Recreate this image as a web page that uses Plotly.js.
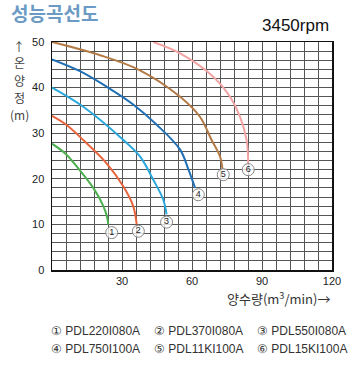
<!DOCTYPE html>
<html>
<head>
<meta charset="utf-8">
<script src="https://cdn.plot.ly/plotly-3.0.1.min.js"></script>
<style>html,body{margin:0;padding:0;background:#fff;}#chart{width:360px;height:366px;}</style>
</head>
<body>
<div id="chart"></div>
<script>
// Pump performance curves (flow m3/min vs head m)
var modelNames = ["PDL220I080A", "PDL370I080A", "PDL550I080A", "PDL750I100A", "PDL11KI100A", "PDL15KI100A"];
var circled = ["①", "②", "③", "④", "⑤", "⑥"];
var labelNums = ["1", "2", "3", "4", "5", "6"];
var curveColors = ["#4cb04f", "#e8643c", "#2aa8dc", "#1f70b4", "#b37a45", "#f2a3a3"];
var yTitleParts = ["↑", "온", "양", "정", "(m)"];

var flow1 = [0, 6, 11.7, 17.7, 22, 23.7, 24.1];
var head1 = [27.7, 25.4, 22, 18, 14, 11.4, 10];
var flow2 = [0, 6, 13.4, 23.4, 30.6, 34.8, 36.3];
var head2 = [33.8, 31.9, 28.5, 23.4, 18.3, 14, 10];
var flow3 = [0, 13.4, 30.6, 37.7, 43.4, 47.7, 49.1];
var head3 = [40, 35.8, 28.5, 24.9, 19.8, 15.4, 12.2];
var flow4 = [0, 12, 23.4, 34.8, 45, 54.9, 58.5, 61.3];
var head4 = [46.2, 43.6, 40.2, 36.3, 31.8, 26.4, 22, 18];
var flow5 = [0, 20.6, 37.7, 54.9, 63.4, 68.4, 72, 73.1];
var head5 = [50, 47.1, 43.8, 38, 33.6, 28.5, 24.9, 22];
var flow6 = [43.4, 54.9, 69.1, 76.3, 80.6, 83.4, 84.1];
var head6 = [50, 47.5, 42.4, 38, 33.6, 28.5, 23.4];

var labelFlow = [25.6, 37, 49.1, 62.7, 73.4, 84.1];
var labelHead = [8.2, 8.5, 10.5, 16.5, 20.9, 22];

var xTickVals = [30, 60, 90, 120];
var yTickVals = [0, 10, 20, 30, 40, 50];

var flows = [flow1, flow2, flow3, flow4, flow5, flow6];
var heads = [head1, head2, head3, head4, head5, head6];

var L = 52, R = 332, T = 42, B = 270, W = 360, H = 366;
function px(x) { return (x - L) / (R - L); }
function py(y) { return (B - y) / (B - T); }

var traces = [];
for (var i = 0; i < 6; i++) {
  traces.push({
    x: flows[i], y: heads[i], type: "scatter", mode: "lines",
    line: {color: curveColors[i], width: 2, shape: "spline", smoothing: 1},
    hoverinfo: "skip", cliponaxis: true
  });
}
traces.push({
  x: labelFlow, y: labelHead, type: "scatter", mode: "markers+text",
  text: labelNums, textposition: "middle center",
  textfont: {family: "Liberation Sans, Arial, sans-serif", size: 9, color: "#222"},
  marker: {symbol: "circle", size: 12, color: "rgba(255,255,255,0.75)", line: {color: "#888", width: 1}},
  hoverinfo: "skip", cliponaxis: false
});

var gridCol = "#555";
var annotations = [
  {xref: "paper", yref: "paper", x: px(9), y: py(13), xanchor: "left", yanchor: "middle",
   text: "<b>성능곡선도</b>", showarrow: false,
   font: {family: "Noto Sans CJK KR", size: 19, color: "#6b9bc4"}},
  {xref: "paper", yref: "paper", x: px(331), y: py(25), xanchor: "right", yanchor: "middle",
   text: "3450rpm", showarrow: false,
   font: {family: "Liberation Sans, Arial, sans-serif", size: 17, color: "#111"}},
  {xref: "paper", yref: "paper", x: px(332), y: py(298), xanchor: "right", yanchor: "middle",
   text: "양수량(m<sup>3</sup>/min)→", showarrow: false,
   font: {family: "Noto Sans CJK KR", size: 13, color: "#333"}}
];
var yTitlePos = [46, 63, 80, 97, 114];
for (var j = 0; j < yTitleParts.length; j++) {
  annotations.push({
    xref: "paper", yref: "paper", x: px(19), y: py(yTitlePos[j]), xanchor: "center", yanchor: "middle",
    text: yTitleParts[j], showarrow: false,
    font: {family: "Noto Sans CJK KR", size: 12, color: "#444"}
  });
}
var legX = [49, 152, 255];
var legY = [331, 349];
for (var k = 0; k < 6; k++) {
  annotations.push({
    xref: "paper", yref: "paper", x: px(legX[k % 3]), y: py(legY[Math.floor(k / 3)]),
    xanchor: "left", yanchor: "middle", showarrow: false,
    text: circled[k] + " " + modelNames[k],
    font: {family: "Liberation Sans, Arial, sans-serif", size: 12, color: "#333"}
  });
}

var layout = {
  width: W, height: H,
  margin: {l: L, r: W - R, t: T, b: H - B, pad: 0},
  paper_bgcolor: "#fff", plot_bgcolor: "#fff",
  showlegend: false,
  xaxis: {
    range: [0, 120], tickmode: "array", tickvals: xTickVals,
    showgrid: true, gridcolor: gridCol, gridwidth: 1,
    minor: {tickmode: "linear", tick0: 0, dtick: 6, showgrid: true, gridcolor: gridCol, gridwidth: 1},
    showline: true, mirror: true, linecolor: "#111", linewidth: 1.5,
    zeroline: false, ticks: "",
    tickfont: {family: "Liberation Sans, Arial, sans-serif", size: 11, color: "#222"},
    fixedrange: true
  },
  yaxis: {
    range: [0, 50], tickmode: "array", tickvals: yTickVals,
    showgrid: true, gridcolor: gridCol, gridwidth: 1,
    minor: {tickmode: "linear", tick0: 0, dtick: 2, showgrid: true, gridcolor: gridCol, gridwidth: 1},
    showline: true, mirror: true, linecolor: "#111", linewidth: 1.5,
    zeroline: false, ticks: "", ticklabelstandoff: 4,
    tickfont: {family: "Liberation Sans, Arial, sans-serif", size: 11, color: "#222"},
    fixedrange: true
  },
  annotations: annotations
};

Plotly.newPlot("chart", traces, layout, {staticPlot: true, displayModeBar: false});
</script>
</body>
</html>
